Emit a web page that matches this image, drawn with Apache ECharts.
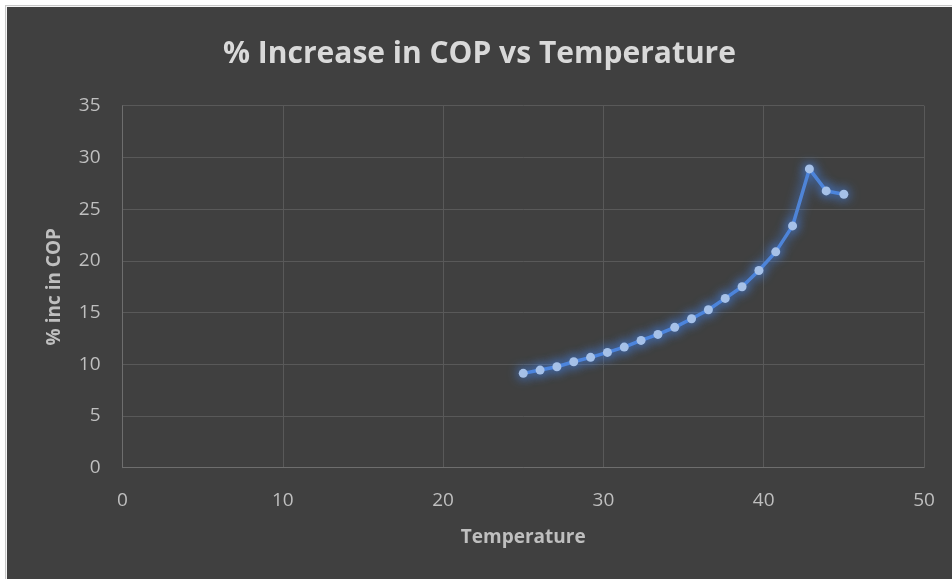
<!DOCTYPE html>
<html>
<head>
<meta charset="utf-8">
<script src="https://cdn.jsdelivr.net/npm/echarts@6/dist/echarts.min.js"></script>
<style>
  html, body { margin: 0; padding: 0; background: #ffffff; width: 952px; height: 579px; overflow: hidden; }
  #frame { position: absolute; left: 5px; top: 5px; width: 947px; height: 574px; border-left: 1px solid #c8c8c8; border-top: 1px solid #c8c8c8; background: #f4f4f4; }
  #chart { position: absolute; left: 7px; top: 7px; width: 945px; height: 572px; background: #404040; }
</style>
</head>
<body>
<div id="frame"></div>
<div id="chart"></div>
<script>
// Temperature readings and the matching % increase in COP
const temperature = [25, 26.05, 27.1, 28.15, 29.2, 30.25, 31.3, 32.35, 33.4, 34.45,
                     35.5, 36.55, 37.6, 38.65, 39.7, 40.75, 41.8, 42.85, 43.9, 45];
const copIncrease = [9.12, 9.44, 9.76, 10.24, 10.67, 11.15, 11.66, 12.31, 12.89, 13.57,
                     14.40, 15.27, 16.37, 17.49, 19.07, 20.87, 23.38, 28.89, 26.76, 26.44];
const xTicks = [0, 10, 20, 30, 40, 50];
const yTicks = [0, 5, 10, 15, 20, 25, 30, 35];

const points = temperature.map((t, i) => [t, copIncrease[i]]);

const chart = echarts.init(document.getElementById('chart'), null, { renderer: 'canvas' });
const font = '"Open Sans", "Noto Sans", sans-serif';

chart.setOption({
  backgroundColor: '#404040',
  animation: false,
  title: {
    text: '% Increase in COP vs Temperature',
    left: 'center',
    top: 27,
    textStyle: { color: '#d9d9d9', fontFamily: font, fontWeight: 'bold', fontSize: 30 }
  },
  grid: { left: 115.5, top: 98.7, width: 801.5, height: 362 },
  xAxis: {
    type: 'value',
    min: xTicks[0],
    max: xTicks[xTicks.length - 1],
    interval: 10,
    name: 'Temperature',
    nameLocation: 'middle',
    nameGap: 60,
    nameTextStyle: { color: '#bfbfbf', fontFamily: font, fontWeight: 'bold', fontSize: 19 },
    axisLine: { show: true, lineStyle: { color: '#6e6e6e', width: 1 } },
    axisTick: { show: false },
    splitLine: { show: true, lineStyle: { color: '#595959', width: 1 } },
    axisLabel: { color: '#bfbfbf', fontFamily: font, fontSize: 19, margin: 23 }
  },
  yAxis: {
    type: 'value',
    min: yTicks[0],
    max: yTicks[yTicks.length - 1],
    interval: 5,
    name: '% inc in COP',
    nameLocation: 'middle',
    nameGap: 58,
    nameRotate: 90,
    nameTextStyle: { color: '#bfbfbf', fontFamily: font, fontWeight: 'bold', fontSize: 19 },
    axisLine: { show: true, lineStyle: { color: '#6e6e6e', width: 1 } },
    axisTick: { show: false },
    splitLine: { show: true, lineStyle: { color: '#595959', width: 1 } },
    axisLabel: { color: '#bfbfbf', fontFamily: font, fontSize: 19, margin: 22 }
  },
  series: [{
    type: 'line',
    data: points,
    symbol: 'circle',
    symbolSize: 9,
    showSymbol: true,
    lineStyle: {
      color: '#4f84d6', width: 3.5,
      shadowColor: 'rgba(70,140,255,1)', shadowBlur: 12
    },
    itemStyle: {
      color: '#a6c1e8', borderWidth: 0,
      shadowColor: 'rgba(70,140,255,1)', shadowBlur: 12
    }
  }]
});
</script>
</body>
</html>
